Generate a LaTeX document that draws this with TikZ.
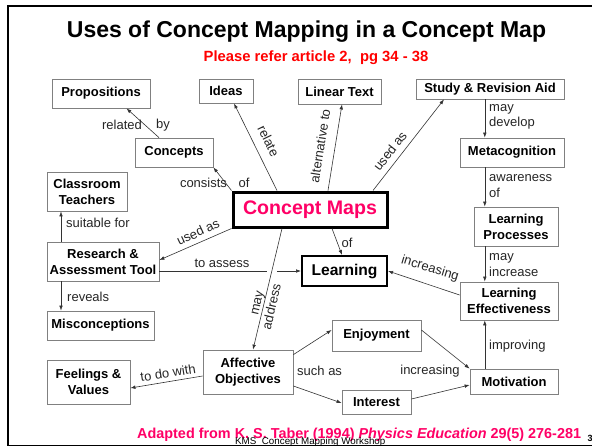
\documentclass[tikz,border=0pt]{standalone}
\usepackage{fontspec}
\setmainfont{Liberation Sans}
\usetikzlibrary{arrows.meta}
\definecolor{cmpink}{RGB}{255,0,102}
\definecolor{subred}{RGB}{255,0,0}
\tikzset{
  box/.style={draw=black!50, line width=0.8pt, fill=white, inner sep=0pt, align=center,
    font=\bfseries\fontsize{13}{16}\selectfont},
  lbl/.style={font=\fontsize{13}{15.5}\selectfont, inner sep=0pt, text=black!85},
  conn/.style={draw=black!80, line width=0.6pt, -{Latex[length=5pt,width=3.6pt]}},
  frameline/.style={draw=black, line width=2.5pt},
}
\begin{document}
\begin{tikzpicture}[x=1pt,y=-1pt]
\useasboundingbox (0,0) rectangle (592,447);
\fill[white] (0,0) rectangle (592,447);
% frame
\draw[frameline] (7,6.2) -- (592,6.2);
\draw[frameline] (8.2,5) -- (8.2,445.5);
\draw[black, line width=1.2pt] (7,445.2) -- (592,445.2);

% titles
\node[anchor=base, font=\bfseries\fontsize{23}{26}\selectfont, inner sep=0pt] (title) at (306.5,37) {Uses of Concept Mapping in a Concept Map};
\node[anchor=base, font=\bfseries\fontsize{14.8}{16}\selectfont, text=subred, inner sep=0pt] (sub) at (316,61) {Please refer article 2,\ \ pg 34 - 38};

% helper coordinates for vertical connectors
\coordinate (vx) at (484.8,0);
\coordinate (lx) at (61,0);

% nodes
\node[box, minimum width=98pt, minimum height=29pt] (prop) at (101,93.5) {Propositions};
\node[box, minimum width=54pt, minimum height=24pt] (ideas) at (226,91) {Ideas};
\node[box, minimum width=83pt, minimum height=25pt] (linear) at (339.5,91.5) {Linear Text};
\node[box, minimum width=148pt, minimum height=20pt] (study) at (490,89) {Study \& Revision Aid};
\node[box, minimum width=78pt, minimum height=29pt] (concepts) at (174,152.5) {Concepts};
\node[box, minimum width=80pt, minimum height=39pt] (classroom) at (87,191.5) {Classroom\\Teachers};
\node[box, minimum width=112pt, minimum height=39pt] (research) at (103,261.5) {Research \&\\Assessment Tool};
\node[box, minimum width=104pt, minimum height=29pt] (meta) at (512,152.5) {Metacognition};
\node[box, minimum width=84pt, minimum height=39pt] (lproc) at (516,226.5) {Learning\\Processes};
\node[box, minimum width=98pt, minimum height=38pt] (leff) at (509,301) {Learning\\Effectiveness};
\node[box, minimum width=107pt, minimum height=29pt] (misc) at (100.5,325.5) {Misconceptions};
\node[box, minimum width=83pt, minimum height=44pt] (feel) at (88.5,382) {Feelings \&\\Values};
\node[box, minimum width=90pt, minimum height=44pt] (affect) at (248,372) {Affective\\Objectives};
\node[box, minimum width=89pt, minimum height=31pt] (enjoy) at (376.5,335.5) {Enjoyment};
\node[box, minimum width=69pt, minimum height=24pt] (interest) at (376.5,402) {Interest};
\node[box, minimum width=88pt, minimum height=25pt] (motiv) at (514,381.5) {Motivation};
\node[box, draw=black, line width=2pt, minimum width=85pt, minimum height=30pt,
  font=\bfseries\fontsize{15.6}{18}\selectfont] (learning) at (344.5,271) {Learning};
\node[box, draw=black, line width=3pt, minimum width=154pt, minimum height=35pt,
  font=\bfseries\fontsize{19.6}{22}\selectfont, text=cmpink] (cmaps) at (310,209.5) {Concept Maps};

% connectors
\draw[conn] ([xshift=-15pt]concepts.north) -- ([xshift=25.5pt]prop.south);
\draw[conn] ([xshift=-33pt]cmaps.north) -- ([xshift=8pt]ideas.south);
\draw[conn] ([xshift=18pt]cmaps.north) -- ([xshift=2.5pt]linear.south);
\draw[conn] ([xshift=63pt]cmaps.north) -- ([xshift=-46pt]study.south);
\draw[conn] (study.south -| vx) -- (meta.north -| vx);
\draw[conn] (meta.south -| vx) -- (lproc.north -| vx);
\draw[conn] (lproc.south -| vx) -- (leff.north -| vx);
\draw[conn] (motiv.north -| vx) -- (leff.south -| vx);
\draw[conn] ([yshift=6pt]leff.west) -- (learning.east);
\draw[conn] (cmaps.north west) -- (concepts.south east);
\draw[conn] (cmaps.south west) -- ([yshift=1.5pt]research.east);
\draw[conn] (research.east |- learning.west) -- (learning.west);
\fill[white] (267,269.5) rectangle (277,274.5);
\draw[conn] ([xshift=22pt]cmaps.south) -- ([xshift=-2.5pt]learning.north);
\draw[conn] ([xshift=-28pt]cmaps.south) -- ([xshift=5pt]affect.north);
\draw[conn] (research.north -| lx) -- (classroom.south -| lx);
\draw[conn] (research.south -| lx) -- (misc.north -| lx);
\draw[conn] ([yshift=-4pt]affect.west) -- ([yshift=-6pt]feel.east);
\draw[conn] ([yshift=-5pt]affect.north east) -- ([yshift=5.5pt]enjoy.west);
\draw[conn] ([yshift=-14pt]affect.east) -- ([yshift=-1pt]interest.west);
\draw[conn] ([yshift=5.5pt]enjoy.east) -- (motiv.north west);
\draw[conn] ([yshift=3pt]interest.east) -- ([yshift=-3.5pt]motiv.west);

% connector labels
\node[lbl] (l1) at (122,125) {related};
\node[lbl] (l2) at (163,125) {by};
\node[lbl, rotate=-64] (l3) at (268.5,141) {relate};
\node[lbl, rotate=81] (l4) at (320,146) {alternative to};
\node[lbl, rotate=52] (l5) at (390,151) {used as};
\node[lbl, anchor=west, align=left] (l6) at (489,117) {may\\develop};
\node[lbl] (l7) at (203.5,183) {consists};
\node[lbl] (l8) at (244,183) {of};
\node[lbl, rotate=25] (l9) at (198,232) {used as};
\node[lbl] (l10) at (222,263) {to assess};
\node[lbl] (l11) at (347,243) {of};
\node[lbl, rotate=77, align=center] (l12) at (265,305) {may\\address};
\node[lbl, anchor=west] (l13) at (66,223) {suitable for};
\node[lbl, anchor=west] (l14) at (67,297) {reveals};
\node[lbl, anchor=west, align=left] (l15) at (489,186) {awareness\\of};
\node[lbl, anchor=west, align=left] (l16) at (489,265) {may\\increase};
\node[lbl, rotate=-17] (l17) at (430,268.5) {increasing};
\node[lbl, rotate=9] (l18) at (168,373) {to do with};
\node[lbl, anchor=west] (l19) at (297,371) {such as};
\node[lbl] (l20) at (430,371) {increasing};
\node[lbl, anchor=west] (l21) at (489,346) {improving};

% footer
\node[anchor=base west, inner sep=0pt, text=cmpink, font=\bfseries\fontsize{14.4}{16}\selectfont] (foot) at (137,438.5)
  {Adapted from K. S. Taber (1994) \textit{Physics Education} 29(5) 276-281};
\node[anchor=base west, inner sep=0pt, font=\fontsize{9.8}{11}\selectfont] (kms) at (235,444) {KMS\_Concept Mapping Workshop};
\node[anchor=base west, inner sep=0pt, font=\bfseries\fontsize{9}{10}\selectfont] (pg) at (587.5,441.5) {3};
\end{tikzpicture}
\end{document}
